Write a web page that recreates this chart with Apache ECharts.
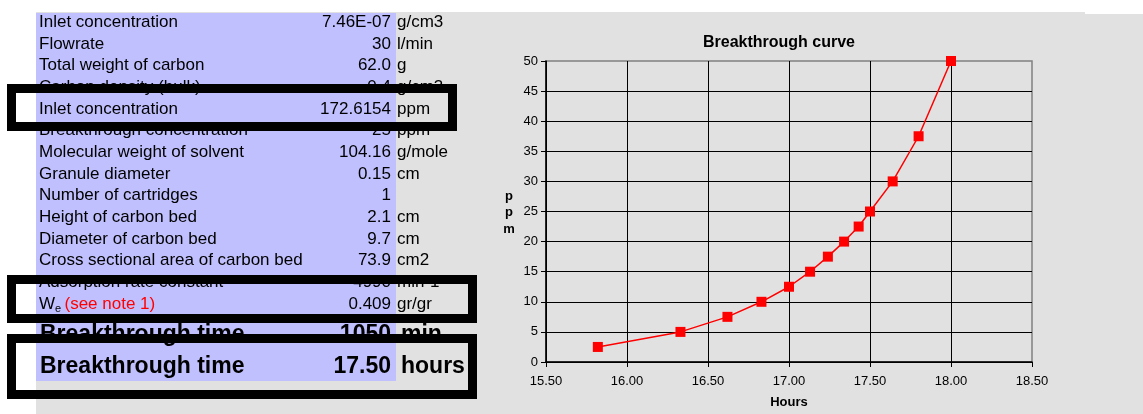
<!DOCTYPE html>
<html>
<head>
<meta charset="utf-8">
<script src="https://cdn.jsdelivr.net/npm/echarts@6/dist/echarts.min.js"></script>
<style>
  html, body { margin: 0; padding: 0; background: #ffffff; }
  #main { width: 1143px; height: 414px; }
</style>
</head>
<body>
<div id="main"></div>
<script>
// Input / calculation sheet
const rowLabels = [
  'Inlet concentration', 'Flowrate', 'Total weight of carbon', 'Carbon density (bulk)',
  'Inlet concentration', 'Breakthrough concentration', 'Molecular weight of solvent',
  'Granule diameter', 'Number of cartridges', 'Height of carbon bed', 'Diameter of carbon bed',
  'Cross sectional area of carbon bed', 'Adsorption rate constant', 'W'
];
const rowValues = [
  '7.46E-07', '30', '62.0', '0.4', '172.6154', '25', '104.16', '0.15', '1', '2.1', '9.7',
  '73.9', '4990', '0.409'
];
const rowUnits = [
  'g/cm3', 'l/min', 'g', 'g/cm3', 'ppm', 'ppm', 'g/mole', 'cm', '', 'cm', 'cm', 'cm2',
  'min-1', 'gr/gr'
];
const resultLabels = ['Breakthrough time', 'Breakthrough time'];
const resultValues = ['1050', '17.50'];
const resultUnits = ['min', 'hours'];

// Breakthrough curve
const hours = [15.82, 16.33, 16.62, 16.83, 17.00, 17.13, 17.24, 17.34, 17.43, 17.50, 17.64, 17.80, 18.00];
const ppm = [2.5, 5, 7.5, 10, 12.5, 15, 17.5, 20, 22.5, 25, 30, 37.5, 50];

const FONT = "'Liberation Sans', Arial, sans-serif";
const ROW0 = 22.5, ROW_H = 21.64;
const LABEL_X = 39, VALUE_X = 391, UNIT_X = 397;

const graphics = [];
// sheet backgrounds
graphics.push({ type: 'rect', z: 0, silent: true, shape: { x: 36, y: 12, width: 1049, height: 402 }, style: { fill: '#e1e1e1' } });
graphics.push({ type: 'rect', z: 0, silent: true, shape: { x: 1085, y: 14, width: 58, height: 400 }, style: { fill: '#e1e1e1' } });
graphics.push({ type: 'rect', z: 1, silent: true, shape: { x: 36, y: 13, width: 360, height: 368 }, style: { fill: '#c0c0ff' } });

rowLabels.forEach((label, i) => {
  const y = ROW0 + i * ROW_H;
  if (label === 'W') {
    graphics.push({
      type: 'text', z: 5, silent: true,
      style: {
        x: LABEL_X, y: y, textVerticalAlign: 'middle', textAlign: 'left',
        text: '{w|W}{s|e} {r|(see note 1)}',
        rich: {
          w: { fontSize: 17, fontFamily: FONT, fill: '#000' },
          s: { fontSize: 11, fontFamily: FONT, fill: '#000', padding: [10, 0, 0, 0] },
          r: { fontSize: 17, fontFamily: FONT, fill: '#ff0000' }
        }
      }
    });
  } else {
    graphics.push({ type: 'text', z: 5, silent: true, style: { x: LABEL_X, y: y, text: label, font: '17px ' + FONT, fill: '#000', textAlign: 'left', textVerticalAlign: 'middle' } });
  }
  graphics.push({ type: 'text', z: 5, silent: true, style: { x: VALUE_X, y: y, text: rowValues[i], font: '17px ' + FONT, fill: '#000', textAlign: 'right', textVerticalAlign: 'middle' } });
  graphics.push({ type: 'text', z: 5, silent: true, style: { x: UNIT_X, y: y, text: rowUnits[i], font: '17px ' + FONT, fill: '#000', textAlign: 'left', textVerticalAlign: 'middle' } });
});

const RES_Y = [335, 367];
resultLabels.forEach((label, i) => {
  const y = RES_Y[i];
  const f = 'bold 23px ' + FONT;
  graphics.push({ type: 'text', z: 5, silent: true, style: { x: 40, y: y, text: label, font: f, fill: '#000', textAlign: 'left', textVerticalAlign: 'middle' } });
  graphics.push({ type: 'text', z: 5, silent: true, style: { x: VALUE_X, y: y, text: resultValues[i], font: f, fill: '#000', textAlign: 'right', textVerticalAlign: 'middle' } });
  graphics.push({ type: 'text', z: 5, silent: true, style: { x: 401, y: y, text: resultUnits[i], font: f, fill: '#000', textAlign: 'left', textVerticalAlign: 'middle' } });
});

// highlight frames
[
  { x: 11.5, y: 88.5, width: 441, height: 38 },
  { x: 11.5, y: 279.5, width: 461, height: 39 },
  { x: 11.5, y: 338.5, width: 461, height: 56 }
].forEach(s => {
  graphics.push({ type: 'rect', z: 10, silent: true, shape: s, style: { fill: 'none', stroke: '#000', lineWidth: 9 } });
});

// chart captions
graphics.push({ type: 'text', z: 5, silent: true, style: { x: 779, y: 43, text: 'Breakthrough curve', font: 'bold 16px ' + FONT, fill: '#000', textAlign: 'center', textVerticalAlign: 'middle' } });
graphics.push({ type: 'text', z: 5, silent: true, style: { x: 789, y: 402, text: 'Hours', font: 'bold 13px ' + FONT, fill: '#000', textAlign: 'center', textVerticalAlign: 'middle' } });
['p', 'p', 'm'].forEach((ch, i) => {
  graphics.push({ type: 'text', z: 5, silent: true, style: { x: 509, y: 196 + i * 16.5, text: ch, font: 'bold 13px ' + FONT, fill: '#000', textAlign: 'center', textVerticalAlign: 'middle' } });
});

const chart = echarts.init(document.getElementById('main'), null, { renderer: 'canvas' });
chart.setOption({
  animation: false,
  backgroundColor: 'transparent',
  graphic: { elements: graphics },
  grid: {
    left: 546, top: 61, width: 486, height: 301,
    show: true, backgroundColor: 'transparent', borderColor: '#808080', borderWidth: 1.5, z: 3
  },
  xAxis: {
    type: 'value', min: 15.5, max: 18.5, interval: 0.5, z: 3,
    axisLine: { show: true, onZero: false, lineStyle: { color: '#000', width: 1.5 } },
    axisTick: { show: true, length: 5, lineStyle: { color: '#000' } },
    axisLabel: { margin: 13, color: '#000', fontSize: 13, fontFamily: FONT, formatter: v => v.toFixed(2) },
    splitLine: { show: true, showMaxLine: false, lineStyle: { color: '#000', width: 1 } }
  },
  yAxis: {
    type: 'value', min: 0, max: 50, interval: 5, z: 3,
    axisLine: { show: true, onZero: false, lineStyle: { color: '#000', width: 1.5 } },
    axisTick: { show: true, length: 5, lineStyle: { color: '#000' } },
    axisLabel: { margin: 8, color: '#000', fontSize: 13, fontFamily: FONT },
    splitLine: { show: true, showMaxLine: false, lineStyle: { color: '#000', width: 1 } }
  },
  series: [{
    type: 'line', z: 4,
    data: hours.map((h, i) => [h, ppm[i]]),
    symbol: 'rect', symbolSize: 10,
    itemStyle: { color: '#ff0000' },
    lineStyle: { color: '#ff0000', width: 1.5 }
  }]
});
</script>
</body>
</html>
